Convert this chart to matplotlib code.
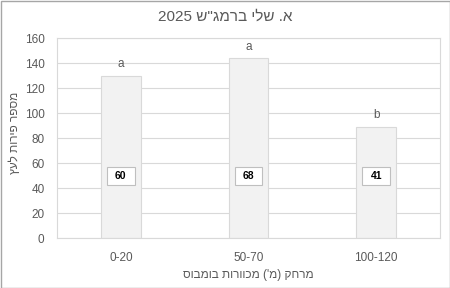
import matplotlib
matplotlib.use("Agg")
import matplotlib.pyplot as plt
from matplotlib.patches import Rectangle
import re

plt.rcParams['font.family'] = ['Liberation Sans', 'DejaVu Sans']

categories = ["0-20", "50-70", "100-120"]
fruits = [130, 144, 89]
box_labels = ["60", "68", "41"]
letters = ["a", "a", "b"]
box_y = 50
yticks = [0, 20, 40, 60, 80, 100, 120, 140, 160]

title = 'א. שלי ברמג"ש 2025'
xlabel = "מרחק (מ') מכוורות בומבוס"
ylabel = "מספר פירות לעץ"


def vis(s):
    mirror = {"(": ")", ")": "("}
    r = "".join(mirror.get(c, c) for c in s[::-1])
    return re.sub(r"[0-9A-Za-z]+", lambda m: m.group(0)[::-1], r)


grey = "#595959"
fig = plt.figure(figsize=(4.5, 2.88), dpi=100)
ax = fig.add_axes([57 / 450, 1 - 238.3 / 288, 383 / 450, 200 / 288])

x = range(len(categories))
ax.bar(x, fruits, width=0.31, color="#f2f2f2", edgecolor="#d9d9d9", linewidth=0.8, zorder=2)
ax.set_xlim(-0.5, len(categories) - 0.5)
ax.set_ylim(0, 160)
ax.set_yticks(yticks)
ax.set_xticks(list(x))
ax.set_xticklabels(categories)
ax.grid(axis="y", color="#d9d9d9", linewidth=0.8, zorder=0)
ax.tick_params(length=0, colors=grey, labelsize=8.5)
ax.tick_params(axis="y", pad=9)
ax.tick_params(axis="x", pad=10)
for s in ax.spines.values():
    s.set_color("#d9d9d9")
    s.set_linewidth(0.8)

# box size in data units (28 x 18 px)
bw = 28 / 128
bh = 18 / 1.25
for i, (v, b, l) in enumerate(zip(fruits, box_labels, letters)):
    ax.annotate(l, (i, v), xytext=(0, 4), textcoords="offset points", ha="center",
                va="bottom", fontsize=8.5, color=grey)
    ax.add_patch(Rectangle((i - bw / 2, box_y - bh / 2), bw, bh, facecolor="white",
                           edgecolor="#bfbfbf", linewidth=0.8, zorder=4))
    ax.text(i, box_y, b, ha="center", va="center", fontsize=7.5, fontweight="bold",
            color="black", zorder=5)

ax.set_xlabel(vis(xlabel), fontsize=8.5, color=grey)
ax.xaxis.set_label_coords(0.5, -(275 - 238.3) / 200, transform=None)
ax.xaxis.label.set_va("center")
ax.xaxis.set_label_coords(0.5, -(275 - 238.3) / 200)
ax.set_ylabel(vis(ylabel), fontsize=8.5, color=grey)
ax.yaxis.label.set_va("center")
ax.yaxis.set_label_coords((15 - 57) / 383, (238.3 - 133) / 200)
fig.text(0.5, 1 - 17 / 288, vis(title), ha="center", va="center", fontsize=11, color=grey)

fig.patches.append(Rectangle((0.5 / 450, 0.5 / 288), 449 / 450, 287 / 288, transform=fig.transFigure,
                             fill=False, edgecolor="#a6a6a6", linewidth=1))
fig.savefig("out.png", dpi=100)
